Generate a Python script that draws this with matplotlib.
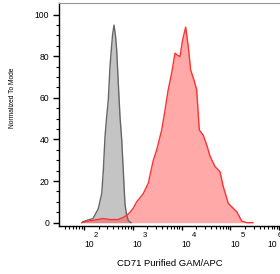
import numpy as np
import matplotlib.pyplot as plt
import matplotlib.transforms as mtransforms
from matplotlib.ticker import FixedLocator, NullFormatter

plt.rcParams['font.family'] = ['Liberation Sans', 'DejaVu Sans']

# isotype control (gray)
gray_x = [95, 153, 196, 231, 249, 269, 289, 315, 341, 363, 384, 412, 442,
          468, 505, 547, 593, 639, 692, 743, 809, 918]
gray_y = [0.5, 2, 6.7, 14, 25, 41, 50, 59, 75, 83, 90, 95, 90,
          83, 67, 51, 40, 25, 9, 4, 1, 0]

# CD71 stained (red)
red_x = [90, 121, 168, 245, 341, 498, 630, 750, 877, 1024, 1202, 1406, 1641,
         2080, 2630, 3090, 3910, 4570, 5330, 6270, 7330, 8170, 9270, 10540,
         12140, 13710, 15350, 17950, 20370, 23070, 27860, 33650, 38190, 48310,
         61240, 71610, 90570, 114600, 134600, 170600, 215800, 290400]
red_y = [0, 0.8, 1.3, 2, 1.5, 1.5, 2.5, 3.5, 5, 7, 10, 12, 14,
         19, 30, 35, 44.5, 54, 64, 72, 81.5, 80.6, 79.8, 88,
         94, 84.6, 73.4, 68.6, 64, 44.6, 42, 36.5, 32, 27,
         24.5, 17.3, 9.3, 6.9, 5.3, 0.8, 0, 0]

yticks = [0, 20, 40, 60, 80, 100]
xdecades = [2, 3, 4, 5, 6]

fig = plt.figure(figsize=(2.8, 2.74), dpi=100)
ax = fig.add_axes([59.3/280, 1-225.5/274, 220.7/280, 222.5/274])

ax.fill_between(gray_x, gray_y, 0, color='#c4c4c4', lw=0)
ax.fill_between(red_x, red_y, 0, color='#ff5555', alpha=0.5, lw=0)
ax.plot(gray_x, gray_y, color='#666666', lw=1)
ax.plot(red_x, red_y, color='#ff3030', lw=1)

ax.set_xscale('log')
ax.set_xlim(31.2, 1.04e6)
ax.set_ylim(-1.35, 105.6)

ax.set_yticks(yticks)
ax.yaxis.set_minor_locator(FixedLocator(np.arange(0, 105, 5)))
ax.set_xticks([10**d for d in xdecades])
ax.set_xticklabels([])
minors = [m * 10**d for d in range(1, 6) for m in range(2, 10)]
ax.xaxis.set_minor_locator(FixedLocator(minors))
ax.xaxis.set_minor_formatter(NullFormatter())

# decade labels: "10" with a raised exponent
trans = mtransforms.blended_transform_factory(ax.transData, ax.transAxes)
for d in xdecades:
    dx = -12 if d == 6 else 0
    t1 = mtransforms.offset_copy(trans, fig, x=dx, y=-19, units='dots')
    t2 = mtransforms.offset_copy(trans, fig, x=dx + 10, y=-10, units='dots')
    ax.text(10**d, 0, '10', transform=t1, ha='left', va='center', fontsize=6.2)
    ax.text(10**d, 0, str(d), transform=t2, ha='left', va='center', fontsize=5.6)

ax.tick_params(axis='y', which='major', length=4.3, width=1, pad=3, labelsize=6.2)
ax.tick_params(axis='y', which='minor', length=2, width=0.8)
ax.tick_params(axis='x', which='major', length=3, width=1)
ax.tick_params(axis='x', which='minor', length=2, width=0.8)

ax.spines['right'].set_visible(False)
ax.spines['top'].set_color('#999999')
ax.spines['top'].set_linewidth(0.8)
ax.spines['left'].set_linewidth(1)
ax.spines['bottom'].set_linewidth(1)

fig.text(12.5/280, 1-98/274, 'Normalized To Mode', rotation=90,
         ha='center', va='center', fontsize=4.8)
fig.text(169.5/280, 1-263.5/274, 'CD71 Purified GAM/APC',
         ha='center', va='center', fontsize=6.8)

fig.savefig('out.png', dpi=100)
